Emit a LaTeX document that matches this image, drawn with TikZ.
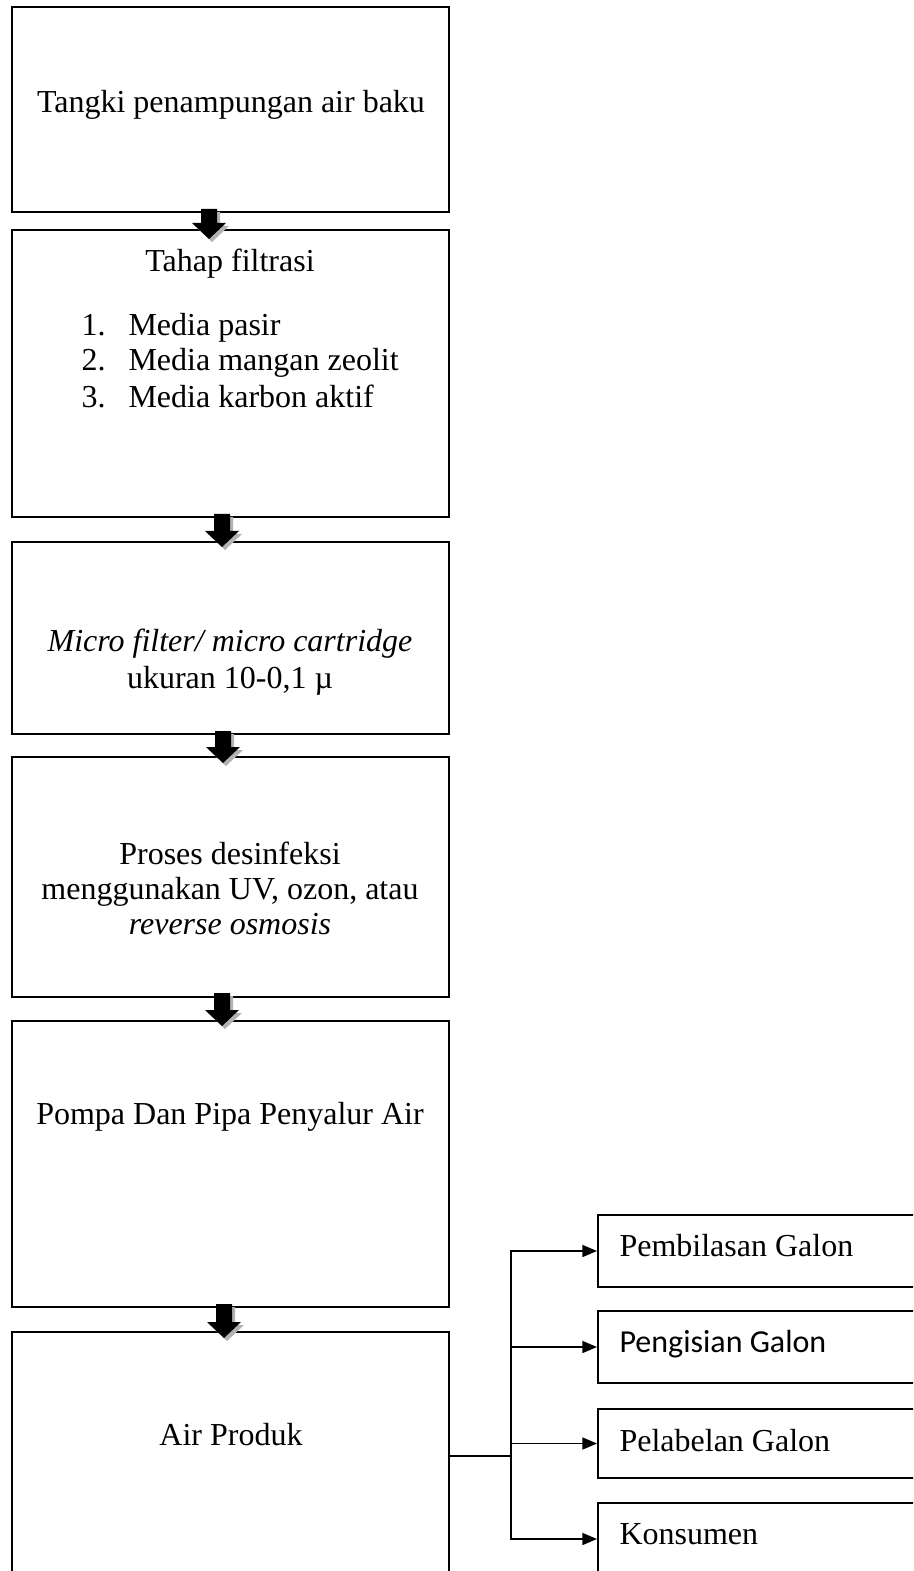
\documentclass[tikz,border=0pt]{standalone}
\usepackage{fontspec}
\setmainfont{Liberation Serif}
\newfontfamily\calibri{Carlito}
\usetikzlibrary{fit,arrows.meta}
\begin{document}
\begin{tikzpicture}[x=0.375pt,y=-0.375pt,
  kotak/.style={draw,line width=0.75pt,inner sep=0pt},
  teks/.style={anchor=base,inner sep=0pt,font=\fontsize{12}{14}\selectfont},
  panah/.style={line width=0.6pt,-{Triangle[length=5.5pt,width=4.5pt]}}]
\useasboundingbox (0,0) rectangle (913,1571);
\clip (0,0) rectangle (913,1571);

% kotak alur utama
\node[kotak,fit={(12,7) (449,212)}] (tangki) {};
\node[kotak,fit={(12,230) (449,517)}] (filtrasi) {};
\node[kotak,fit={(12,542) (449,734)}] (micro) {};
\node[kotak,fit={(12,757) (449,997)}] (desinfeksi) {};
\node[kotak,fit={(12,1021) (449,1307)}] (pompa) {};
\node[kotak,fit={(12,1332) (449,1580)}] (produk) {};

\node[teks] (ttangki) at (231,113) {Tangki penampungan air baku};
\node[teks] (tfiltrasi) at (230,272) {Tahap filtrasi};
\foreach \i/\y/\isi in {1/336/Media pasir,2/371/Media mangan zeolit,3/408/Media karbon aktif}
{
\node[teks,anchor=base west] (no\i) at (81,\y) {\i.};
\node[teks,anchor=base west] (media\i) at (128,\y) {\isi};
}
\node[teks] (tmicro) at (230,651) {\textit{Micro filter/ micro cartridge}};
\node[teks] (tukuran) at (230,688) {ukuran 10-0,1 µ};
\node[teks] (tproses) at (230,864) {Proses desinfeksi};
\node[teks] (tuv) at (230,899) {menggunakan UV, ozon, atau};
\node[teks] (tro) at (230,934) {\textit{reverse osmosis}};
\node[teks] (tpompa) at (230,1124) {Pompa Dan Pipa Penyalur Air};
\node[teks] (tproduk) at (231,1445) {Air Produk};

% panah blok dengan bayangan
\foreach \cx/\ty/\hy/\py in {209/209/223/239,222/514/531/547,223/731/747/763,222/993/1010/1026,224/1304/1322/1338}
{
\fill[black!30,shift={(3,3)}] (\cx-8,\ty) -- (\cx+8,\ty) -- (\cx+8,\hy) -- (\cx+17,\hy) -- (\cx,\py) -- (\cx-17,\hy) -- (\cx-8,\hy) -- cycle;
\fill (\cx-8,\ty) -- (\cx+8,\ty) -- (\cx+8,\hy) -- (\cx+17,\hy) -- (\cx,\py) -- (\cx-17,\hy) -- (\cx-8,\hy) -- cycle;
}

% kotak kanan
\node[kotak,fit={(598,1215) (925,1287)}] (bilas) {};
\node[kotak,fit={(598,1311) (925,1383)}] (isi) {};
\node[kotak,fit={(598,1409) (925,1478)}] (labelgalon) {};
\node[kotak,fit={(598,1503) (925,1575)}] (konsumen) {};

\node[teks,anchor=base west] (tbilas) at (619,1256) {Pembilasan Galon};
\node[teks,anchor=base west,font=\calibri\fontsize{12}{14}\selectfont] (tisi) at (619,1352) {Pengisian Galon};
\node[teks,anchor=base west] (tlabel) at (619,1451) {Pelabelan Galon};
\node[teks,anchor=base west] (tkonsumen) at (619,1544) {Konsumen};

\coordinate (cabang) at (511,1456);
\draw[line width=0.6pt] (produk.east) -- (cabang);
\foreach \n in {bilas,isi,labelgalon,konsumen}
\draw[panah] (cabang) |- (\n.west);

\end{tikzpicture}
\end{document}
